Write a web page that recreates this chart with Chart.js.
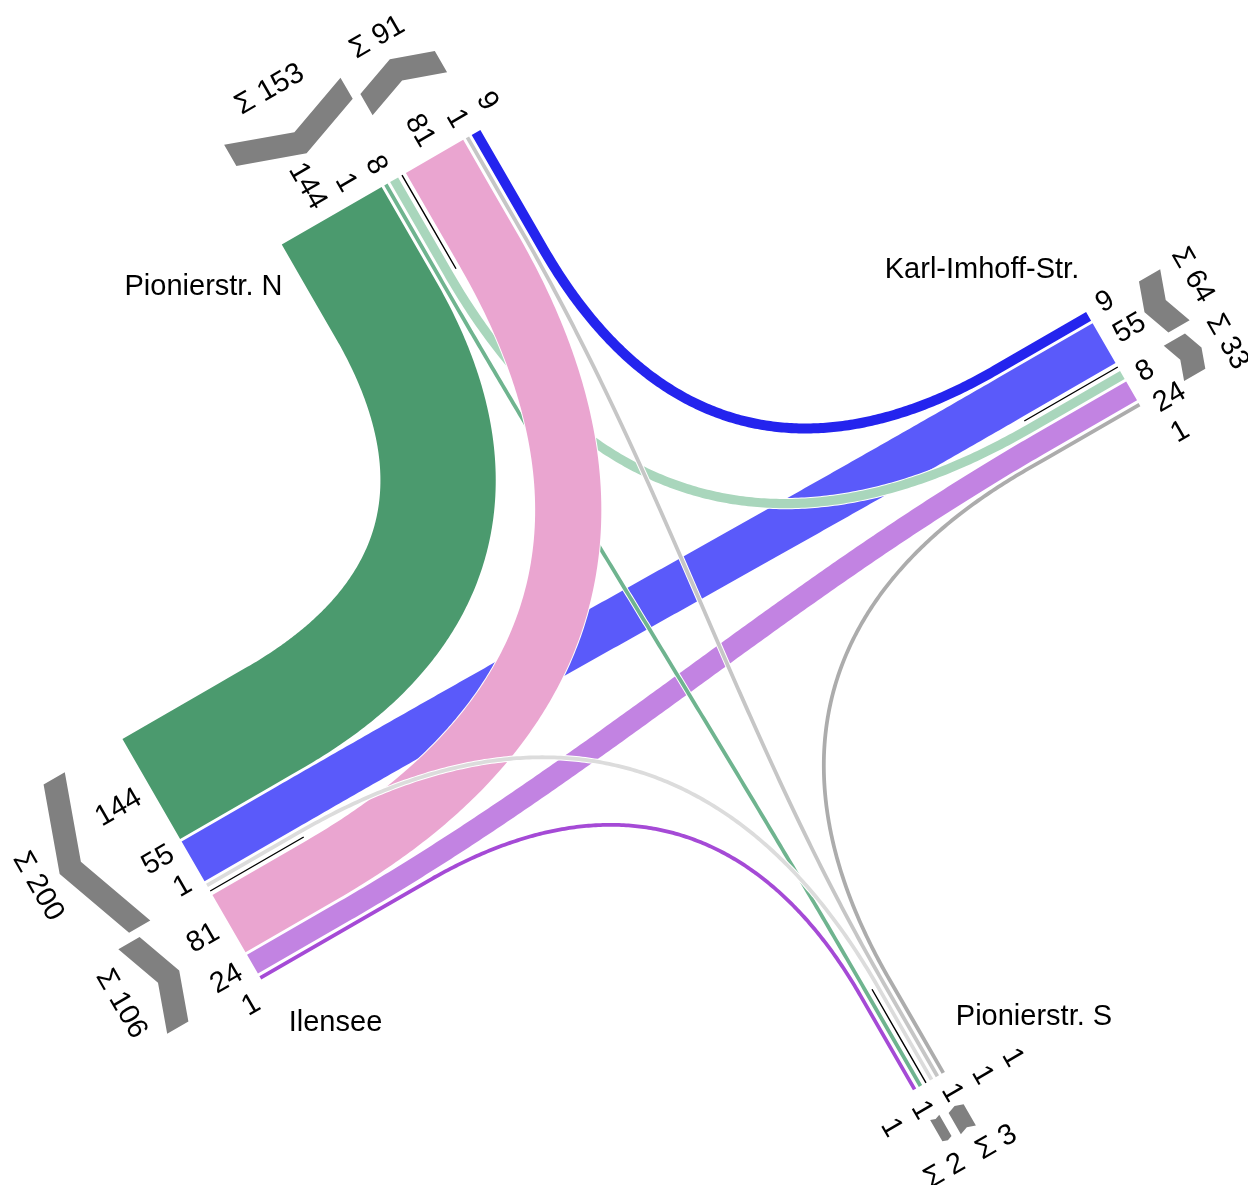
<!DOCTYPE html>
<html><head><meta charset="utf-8">
<script src="https://cdn.jsdelivr.net/npm/chart.js@4.4.0/dist/chart.umd.min.js"></script>
<style>html,body{margin:0;padding:0;background:#fff}#c{display:block}</style>
</head><body>
<canvas id="c" width="1248" height="1185"></canvas>
<script>
// ---------------- DATA ----------------
const armNames = ['Pionierstr. N', 'Karl-Imhoff-Str.', 'Pionierstr. S', 'Ilensee'];
// vehicles from each arm to [Pionierstr. N, Karl-Imhoff-Str., Pionierstr. S, Ilensee]
const fromPionierN   = [0, 8, 1, 144];
const fromKarlImhoff = [9, 0, 0, 55];
const fromPionierS   = [1, 1, 0, 1];
const fromIlensee    = [81, 24, 1, 0];
const sumPrefix = 'Σ ';

// ---------------- STYLE ----------------
const flowColors = [
  [null, '#a9d6bc', '#6fb48f', '#4b9a6e'],
  ['#2424ee', null, null, '#5a5afa'],
  ['#c6c6c6', '#acacac', null, '#dcdcdc'],
  ['#eaa5d0', '#c283e2', '#a54ad6', null]
];
const drawOrder = [[1,3],[1,0],[0,3],[0,1],[3,1],[3,2],[0,2],[3,0],[2,0],[2,3],[2,1]];
const FONT = '29px "Liberation Sans", Arial, sans-serif';
const nameAnchors = [[203.5, 294.5], [982, 277.5], [1034, 1024.5], [335.5, 1030.5]];

// ---------------- LAYOUT ----------------
const matrix = [fromPionierN, fromKarlImhoff, fromPionierS, fromIlensee];
const C = {x: 664, y: 629};
const armAngle = [-120, -30, 60, 150];
const R = 524, APPROACH = 108, GAP = 3, GROUP_GAP = 9;
const UNIT = 0.78, MINW = 3;
const CURVE = 0.65;
const LABEL_R = 13.5, LABEL_SP = 35;
const CHEV_T = 24.5, CHEV_SLOPE = 0.36, SUM_GAP = 17;
const widthOf = v => UNIT * v + MINW;
const deg = Math.PI / 180;
const U = armAngle.map(a => ({x: Math.cos(a * deg), y: Math.sin(a * deg)}));
const T = U.map(u => ({x: -u.y, y: u.x}));
function P(i, s, r) {
  return {x: C.x + (R + r) * U[i].x + s * T[i].x, y: C.y + (R + r) * U[i].y + s * T[i].y};
}

const startS = [[], [], [], []], endS = [[], [], [], []];
const groups = [];
for (let i = 0; i < 4; i++) {
  let cur = -GROUP_GAP / 2, sum = 0, labs = [];
  for (const k of [1, 2, 3]) {
    const j = (i + k) % 4, v = matrix[i][j];
    if (v > 0) { const w = widthOf(v); startS[i][j] = cur - w / 2; labs.push({v, s: cur - w / 2}); cur -= w + GAP; sum += v; }
  }
  if (sum > 0) groups.push({arm: i, kind: 'out', span: [cur + GAP, -GROUP_GAP / 2], sum, labels: labs});
  cur = GROUP_GAP / 2; sum = 0; labs = [];
  for (const k of [3, 2, 1]) {
    const j = (i + k) % 4, v = matrix[j][i];
    if (v > 0) { const w = widthOf(v); endS[j][i] = cur + w / 2; labs.push({v, s: cur + w / 2}); cur += w + GAP; sum += v; }
  }
  if (sum > 0) groups.push({arm: i, kind: 'in', span: [GROUP_GAP / 2, cur - GAP], sum, labels: labs});
}
groups.forEach(g => {
  const sign = g.kind === 'out' ? -1 : 1;
  let prev = sign * (LABEL_SP / 2) - sign * LABEL_SP;
  g.labels.forEach(l => {
    const pos = Math.max(sign * l.s, sign * prev + LABEL_SP);
    l.pos = sign * pos; prev = l.pos;
  });
});

const add = (p, v, k) => ({x: p.x + v.x * k, y: p.y + v.y * k});
function ribbonPoints(i, j) {
  const sA = startS[i][j], sB = endS[i][j];
  const p0 = P(i, sA, 0), p3 = P(j, sB, 0);
  let q0 = P(i, sA, -APPROACH), q3 = P(j, sB, -APPROACH);
  const ui = U[i], uj = U[j];
  const dx = q0.x - q3.x, dy = q0.y - q3.y;
  const det = -ui.x * uj.y + uj.x * ui.y;
  let k0, k3;
  const pts = [p0, q0];
  if (Math.abs(det) < 0.2) { k0 = k3 = Math.hypot(dx, dy) * 0.35; }
  else {
    const a = (-dx * uj.y + uj.x * dy) / det, b = (ui.x * dy - ui.y * dx) / det;
    const m = Math.min(a, b);
    q0 = add(q0, ui, -(a - m));
    q3 = add(q3, uj, -(b - m));
    k0 = k3 = CURVE * m;
  }
  const q1 = add(q0, ui, -k0), q2 = add(q3, uj, -k3);
  const N = 100;
  for (let n = 0; n <= N; n++) {
    const t = n / N, mm = 1 - t;
    pts.push({
      x: mm*mm*mm*q0.x + 3*mm*mm*t*q1.x + 3*mm*t*t*q2.x + t*t*t*q3.x,
      y: mm*mm*mm*q0.y + 3*mm*mm*t*q1.y + 3*mm*t*t*q2.y + t*t*t*q3.y
    });
  }
  pts.push(P(j, sB, -APPROACH));
  pts.push(p3);
  // drop near-duplicate points
  return pts.filter((p, k) => k === 0 || Math.hypot(p.x - pts[k - 1].x, p.y - pts[k - 1].y) > 0.01);
}

const datasets = [];
let drawIdx = 0;
const total = drawOrder.length * 2 + 4;
const lineBase = {showLine: true, pointRadius: 0, pointHoverRadius: 0, fill: false,
  borderCapStyle: 'butt', borderJoinStyle: 'round', tension: 0.0001, clip: false};
drawOrder.forEach(([i, j]) => {
  const v = matrix[i][j];
  if (!(v > 0)) return;
  const pts = ribbonPoints(i, j), w = widthOf(v);
  datasets.push(Object.assign({}, lineBase, {data: pts, borderColor: '#ffffff', borderWidth: w + 2, order: total - (drawIdx++)}));
  datasets.push(Object.assign({}, lineBase, {data: pts, borderColor: flowColors[i][j], borderWidth: w, order: total - (drawIdx++)}));
});
for (let i = 0; i < 4; i++) {
  datasets.push(Object.assign({}, lineBase, {data: [P(i, 0, 0), P(i, 0, -APPROACH)],
    borderColor: '#000', borderWidth: 1.4, order: total - (drawIdx++)}));
}

function readable(v) {
  let a = Math.atan2(v.y, v.x);
  if (a > Math.PI / 2 + 1e-6 || a <= -Math.PI / 2 - 1e-6) return {ang: a + (a > 0 ? -Math.PI : Math.PI), flipped: true};
  return {ang: a, flipped: false};
}

const overlay = {
  id: 'overlay',
  afterDatasetsDraw(chart) {
    const ctx = chart.ctx, sx = chart.scales.x, sy = chart.scales.y;
    const px = p => ({x: sx.getPixelForValue(p.x), y: sy.getPixelForValue(p.y)});
    ctx.save();
    ctx.font = FONT;
    const maxW = [0, 0, 0, 0];
    groups.forEach(g => g.labels.forEach(l => { maxW[g.arm] = Math.max(maxW[g.arm], ctx.measureText(String(l.v)).width); }));
    groups.forEach(g => { g.text = sumPrefix + g.sum; g.tw = ctx.measureText(g.text).width; g.tm = (g.span[0] + g.span[1]) / 2; });
    for (let i = 0; i < 4; i++) {
      const go = groups.find(g => g.arm === i && g.kind === 'out'), gi = groups.find(g => g.arm === i && g.kind === 'in');
      if (go && gi) {
        const need = (go.tw + gi.tw) / 2 + SUM_GAP, have = gi.tm - go.tm;
        if (have < need) { const sh = (need - have) / 2; go.tm -= sh; gi.tm += sh; }
      }
    }
    groups.forEach(g => {
      const i = g.arm, r0 = LABEL_R + maxW[i] + 4.7;
      const [a, b] = g.span, m = (a + b) / 2, h = (b - a) / 2, d = CHEV_SLOPE * h;
      let inEnd, inTip;
      if (g.kind === 'in') { inEnd = r0; inTip = r0 + d; } else { inEnd = r0 + d; inTip = r0; }
      const poly = [[a, inEnd], [m, inTip], [b, inEnd], [b, inEnd + CHEV_T], [m, inTip + CHEV_T], [a, inEnd + CHEV_T]];
      ctx.fillStyle = '#808080';
      ctx.beginPath();
      poly.forEach(([s, r], k) => { const q = px(P(i, s, r)); if (k) ctx.lineTo(q.x, q.y); else ctx.moveTo(q.x, q.y); });
      ctx.closePath(); ctx.fill();
      const tp = px(P(i, g.tm, r0 + CHEV_T + d + 25));
      const rd = readable(T[i]);
      ctx.save(); ctx.translate(tp.x, tp.y); ctx.rotate(rd.ang);
      ctx.fillStyle = '#000'; ctx.textAlign = 'center'; ctx.textBaseline = 'middle';
      ctx.fillText(g.text, 0, 0); ctx.restore();
      const ud = readable(U[i]);
      g.labels.forEach(l => {
        const q = px(P(i, l.pos, LABEL_R));
        ctx.save(); ctx.translate(q.x, q.y); ctx.rotate(ud.ang);
        ctx.fillStyle = '#000'; ctx.textBaseline = 'middle';
        ctx.textAlign = ud.flipped ? 'right' : 'left';
        ctx.fillText(String(l.v), 0, 0); ctx.restore();
      });
    });
    ctx.fillStyle = '#000'; ctx.textAlign = 'center'; ctx.textBaseline = 'alphabetic';
    armNames.forEach((n, i) => { const q = px({x: nameAnchors[i][0], y: nameAnchors[i][1]}); ctx.fillText(n, q.x, q.y); });
    ctx.restore();
  }
};

new Chart(document.getElementById('c'), {
  type: 'scatter',
  data: {datasets},
  options: {
    responsive: false, animation: false, devicePixelRatio: 1, events: [],
    layout: {padding: 0},
    plugins: {legend: {display: false}, tooltip: {enabled: false}},
    scales: {
      x: {type: 'linear', min: 0, max: 1248, display: false},
      y: {type: 'linear', min: 0, max: 1185, reverse: true, display: false}
    }
  },
  plugins: [overlay]
});
</script>
</body></html>
